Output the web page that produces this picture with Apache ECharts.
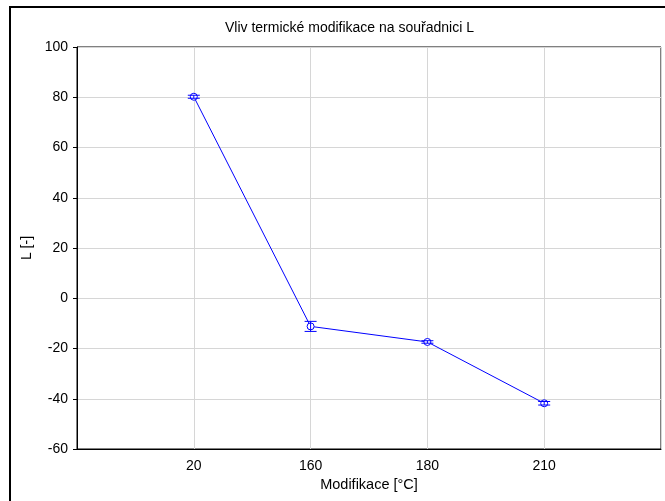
<!DOCTYPE html>
<html>
<head>
<meta charset="utf-8">
<script src="https://cdn.jsdelivr.net/npm/echarts@6/dist/echarts.min.js"></script>
<style>
  html, body { margin: 0; padding: 0; background: #fff; }
  #chart { width: 665px; height: 501px; }
</style>
</head>
<body>
<div id="chart"></div>
<script>
// categories padded with empty slots on both ends (like the original plot)
const categories = ['', '20', '160', '180', '210', ''];
const meanL = [null, 80.2, -11.2, -17.4, -41.8, null];
const errL = [null, 0.6, 2.0, 0.5, 0.7, null];
const yTicks = { min: -60, max: 100, interval: 20 };

const chart = echarts.init(document.getElementById('chart'));

const errorData = [];
categories.forEach((c, i) => {
  if (meanL[i] !== null) {
    errorData.push([i, meanL[i] - errL[i], meanL[i] + errL[i]]);
  }
});

const font = 'Liberation Sans, Arial, sans-serif';

chart.setOption({
  animation: false,
  textStyle: { fontFamily: font, color: '#000' },
  title: {
    text: 'Vliv termické modifikace na souřadnici L',
    left: 220,
    top: 16,
    textStyle: { fontSize: 14, fontWeight: 'normal', color: '#000', fontFamily: font }
  },
  graphic: [{
    type: 'rect',
    shape: { x: 10, y: 7, width: 700, height: 520 },
    style: { fill: 'none', stroke: '#000', lineWidth: 2 },
    silent: true
  }],
  grid: {
    left: 77, right: 4, top: 47, bottom: 52,
    show: true, borderColor: '#000', borderWidth: 1
  },
  xAxis: {
    type: 'category',
    data: categories,
    boundaryGap: false,
    name: 'Modifikace [°C]',
    nameLocation: 'middle',
    nameGap: 27,
    nameTextStyle: { fontSize: 14.5, color: '#000' },
    axisLine: { onZero: false, lineStyle: { color: '#000' } },
    axisTick: { show: false },
    axisLabel: { fontSize: 14, color: '#000', margin: 10 },
    splitLine: { show: true, lineStyle: { color: '#d6d6d6' } }
  },
  yAxis: {
    type: 'value',
    min: yTicks.min, max: yTicks.max, interval: yTicks.interval,
    name: 'L [-]',
    nameLocation: 'middle',
    nameGap: 42,
    nameTextStyle: { fontSize: 14, color: '#000' },
    axisLine: { show: true, lineStyle: { color: '#000' } },
    axisTick: { show: true, length: 4, lineStyle: { color: '#000' } },
    axisLabel: { fontSize: 14, color: '#000', margin: 9 },
    splitLine: { show: true, lineStyle: { color: '#d6d6d6' } }
  },
  series: [
    {
      type: 'line',
      data: meanL,
      connectNulls: false,
      symbol: 'circle',
      symbolSize: 7,
      showAllSymbol: true,
      lineStyle: { color: '#0000ff', width: 1 },
      itemStyle: { color: '#fff', borderColor: '#0000ff', borderWidth: 1 },
      z: 3
    },
    {
      type: 'custom',
      data: errorData,
      renderItem: function (params, api) {
        const x = api.value(0);
        const lo = api.coord([x, api.value(1)]);
        const hi = api.coord([x, api.value(2)]);
        const half = 6;
        const style = { stroke: '#0000ff', lineWidth: 1 };
        return {
          type: 'group',
          children: [
            { type: 'line', shape: { x1: lo[0], y1: lo[1], x2: hi[0], y2: hi[1] }, style: style },
            { type: 'line', shape: { x1: lo[0] - half, y1: lo[1], x2: lo[0] + half, y2: lo[1] }, style: style },
            { type: 'line', shape: { x1: hi[0] - half, y1: hi[1], x2: hi[0] + half, y2: hi[1] }, style: style }
          ]
        };
      },
      z: 4
    }
  ]
});
</script>
</body>
</html>
